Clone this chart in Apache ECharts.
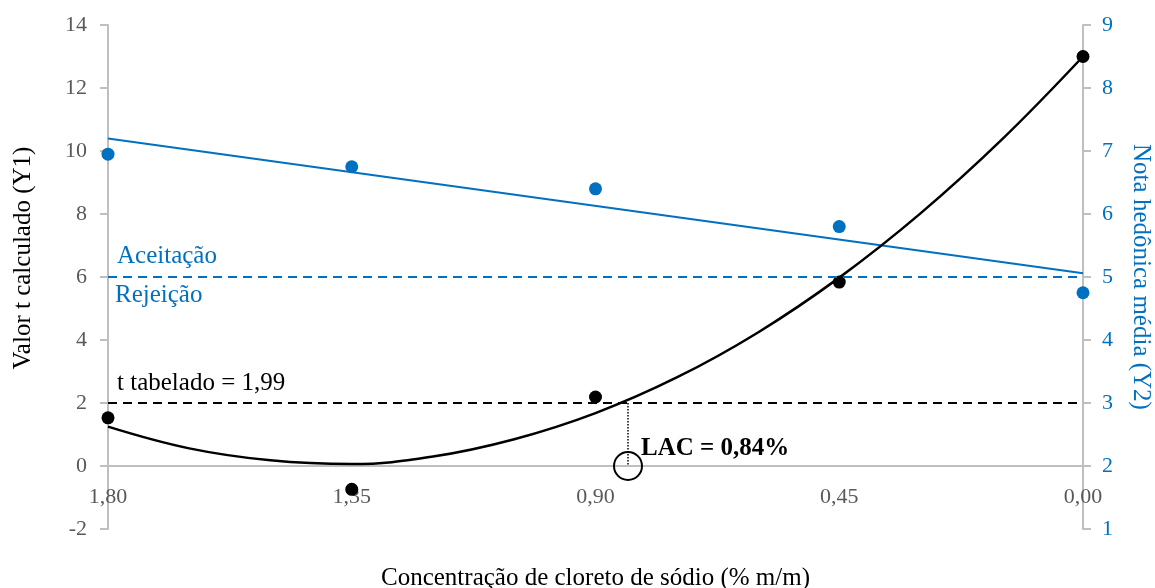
<!DOCTYPE html>
<html>
<head>
<meta charset="utf-8">
<script src="https://cdn.jsdelivr.net/npm/echarts@6/dist/echarts.min.js"></script>
<style>
  html, body { margin: 0; padding: 0; background: #fff; }
  #grafico { width: 1155px; height: 588px; }
</style>
</head>
<body>
<div id="grafico"></div>
<script>
// concentrações (% m/m)
const concentracoes = [1.80, 1.35, 0.90, 0.45, 0.00];
// valor t calculado (Y1)
const valorT = [1.53, -0.74, 2.19, 5.84, 13.0];
// nota hedônica média (Y2)
const notaHedonica = [6.95, 6.75, 6.40, 5.80, 4.75];
// curva polinomial
const curvaX = [1.80, 1.65, 1.50, 1.35, 1.20, 1.05, 0.90, 0.75, 0.60, 0.45, 0.30, 0.15, 0.00];
const curvaY = [1.25, 0.56, 0.18, 0.06, 0.30, 0.85, 1.68, 2.81, 4.24, 5.98, 8.02, 10.36, 13.0];
// reta linear da nota
const retaX = [1.80, 0.00];
const retaY = [7.20, 5.06];
const tTabelado = 2;
const limiteAceitacao = 6;
const lac = 0.84;

const azul = '#0070C0';
const fonte = 'Liberation Serif';

let grafico;

window.onload = init;

function init() {
    grafico = echarts.init(document.getElementById('grafico'));

    let options = {
        animation: false,
        grid: { left: 108, right: 72, top: 25, bottom: 59, outerBoundsMode: 'none', containLabel: false },
        xAxis: {
            type: 'value',
            inverse: true,
            min: 0,
            max: 1.8,
            interval: 0.45,
            // eixo desenhado na altura de y = 0
            offset: -63,
            name: 'Concentração de cloreto de sódio (% m/m)',
            nameLocation: 'middle',
            nameGap: 100,
            nameTextStyle: { color: '#000', fontFamily: fonte, fontSize: 25 },
            axisLine: { onZero: false, lineStyle: { color: '#bfbfbf', width: 2 } },
            axisTick: { show: false },
            splitLine: { show: false },
            axisLabel: {
                color: '#595959', fontFamily: fonte, fontSize: 22, margin: 20,
                formatter: v => v.toFixed(2).replace('.', ',')
            }
        },
        yAxis: [
            {
                type: 'value',
                min: -2,
                max: 14,
                interval: 2,
                name: 'Valor t calculado (Y1)',
                nameLocation: 'middle',
                nameGap: 72,
                nameTextStyle: { color: '#000', fontFamily: fonte, fontSize: 25, padding: [0, 0, 0, 38] },
                axisLine: { show: true, onZero: false, lineStyle: { color: '#bfbfbf', width: 2 } },
                axisTick: { show: true, length: 8, lineStyle: { color: '#bfbfbf', width: 2 } },
                splitLine: { show: false },
                axisLabel: { color: '#595959', fontFamily: fonte, fontSize: 22, margin: 21 }
            },
            {
                type: 'value',
                position: 'right',
                min: 1,
                max: 9,
                interval: 1,
                name: 'Nota hedônica média (Y2)',
                nameLocation: 'middle',
                nameGap: 45,
                nameRotate: -90,
                nameTextStyle: { color: azul, fontFamily: fonte, fontSize: 25 },
                axisLine: { show: true, onZero: false, lineStyle: { color: '#bfbfbf', width: 2 } },
                axisTick: { show: true, length: 8, lineStyle: { color: '#bfbfbf', width: 2 } },
                splitLine: { show: false },
                axisLabel: { color: azul, fontFamily: fonte, fontSize: 22, margin: 19 }
            }
        ],
        graphic: [
            { type: 'text', left: 117, top: 244, style: { text: 'Aceitação', fill: azul, font: '25px "Liberation Serif"' } },
            { type: 'text', left: 115, top: 283, style: { text: 'Rejeição', fill: azul, font: '25px "Liberation Serif"' } },
            { type: 'text', left: 117, top: 371, style: { text: 't tabelado = 1,99', fill: '#000', font: '25px "Liberation Serif"' } },
            { type: 'text', left: 641, top: 436, style: { text: 'LAC = 0,84%', fill: '#000', font: 'bold 25px "Liberation Serif"' } }
        ],
        series: [
            {
                name: 'Limite aceitação',
                type: 'line',
                data: [[1.8, limiteAceitacao], [0, limiteAceitacao]],
                symbol: 'none',
                lineStyle: { color: azul, width: 2, type: [9, 6] },
                silent: true
            },
            {
                name: 't tabelado',
                type: 'line',
                data: [[1.8, tTabelado], [0, tTabelado]],
                symbol: 'none',
                lineStyle: { color: '#000', width: 2, type: [9, 6] },
                silent: true
            },
            {
                name: 'Reta nota',
                type: 'line',
                yAxisIndex: 1,
                data: retaX.map((x, i) => [x, retaY[i]]),
                symbol: 'none',
                lineStyle: { color: azul, width: 2 }
            },
            {
                name: 'Curva t',
                type: 'line',
                smooth: 0.4,
                data: curvaX.map((x, i) => [x, curvaY[i]]),
                symbol: 'none',
                lineStyle: { color: '#000', width: 2.5 }
            },
            {
                name: 'LAC linha',
                type: 'line',
                data: [[lac, tTabelado], [lac, 0]],
                symbol: 'none',
                lineStyle: { color: '#000', width: 1.5, type: 'dotted' }
            },
            {
                name: 'LAC',
                type: 'scatter',
                data: [[lac, 0]],
                symbol: 'circle',
                symbolSize: 28,
                itemStyle: { color: 'rgba(0,0,0,0)', borderColor: '#000', borderWidth: 2, opacity: 1 }
            },
            {
                name: 'Nota hedônica',
                type: 'scatter',
                yAxisIndex: 1,
                data: concentracoes.map((x, i) => [x, notaHedonica[i]]),
                symbolSize: 13,
                itemStyle: { color: azul, opacity: 1 }
            },
            {
                name: 'Valor t',
                type: 'scatter',
                data: concentracoes.map((x, i) => [x, valorT[i]]),
                symbolSize: 13,
                itemStyle: { color: '#000', opacity: 1 }
            }
        ]
    };

    grafico.setOption(options);
}
</script>
</body>
</html>
